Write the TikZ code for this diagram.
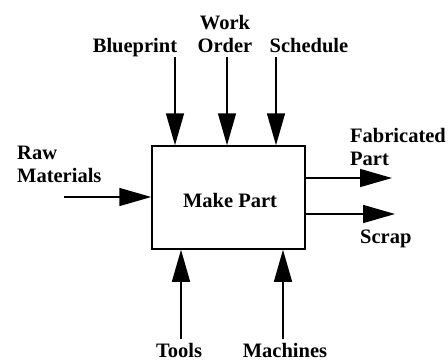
\documentclass[tikz,border=0pt]{standalone}
\usepackage{fontspec}
\setmainfont{Liberation Serif}
\usetikzlibrary{arrows.meta}
\begin{document}
\begin{tikzpicture}[x=1pt,y=-1pt,
  lbl/.style={font=\bfseries\fontsize{20.5}{22.5}\selectfont,inner sep=0pt,align=left},
  flow/.style={line width=1.5pt,-{Triangle[length=32pt,width=18pt]}},
  proc/.style={draw,line width=1.5pt,minimum width=153pt,minimum height=103pt,inner sep=0pt,font=\bfseries\fontsize{20.5}{22.5}\selectfont}]
\useasboundingbox (0,0) rectangle (448,360);
\node[proc] (box) at (228.5,197.5) {};
\node[lbl,anchor=base] (mk) at (230,207) {Make Part};
% labels
\node[lbl,anchor=base] (bpL) at (135,52) {Blueprint};
\node[lbl,anchor=base,align=center] (woL) at (225,52) {Work\\Order};
\node[lbl,anchor=base] (scL) at (309,52) {Schedule};
\node[lbl,anchor=base west] (rawL) at (17,182) {Raw\\Materials};
\node[lbl,anchor=base west] (fabL) at (350,165) {Fabricated\\Part};
\node[lbl,anchor=base west] (scrL) at (360,243) {Scrap};
\node[lbl,anchor=base] (toL) at (179,357.5) {Tools};
\node[lbl,anchor=base] (maL) at (285,357.5) {Machines};
% free ends
\coordinate (bpS) at (175,57);
\coordinate (woS) at (227,57);
\coordinate (scS) at (276,57);
\coordinate (rawS) at (64,197);
\coordinate (fabE) at (392,178);
\coordinate (scrE) at (395,214);
\coordinate (toS) at (181,339);
\coordinate (maS) at (283,339);
% connectors
\draw[flow] (bpS) -- (bpS |- box.north);
\draw[flow] (woS) -- (woS |- box.north);
\draw[flow] (scS) -- (scS |- box.north);
\draw[flow] (rawS) -- (box.west |- rawS);
\draw[flow] (box.east |- fabE) -- (fabE);
\draw[flow] (box.east |- scrE) -- (scrE);
\draw[flow] (toS) -- (toS |- box.south);
\draw[flow] (maS) -- (maS |- box.south);
\end{tikzpicture}
\end{document}
